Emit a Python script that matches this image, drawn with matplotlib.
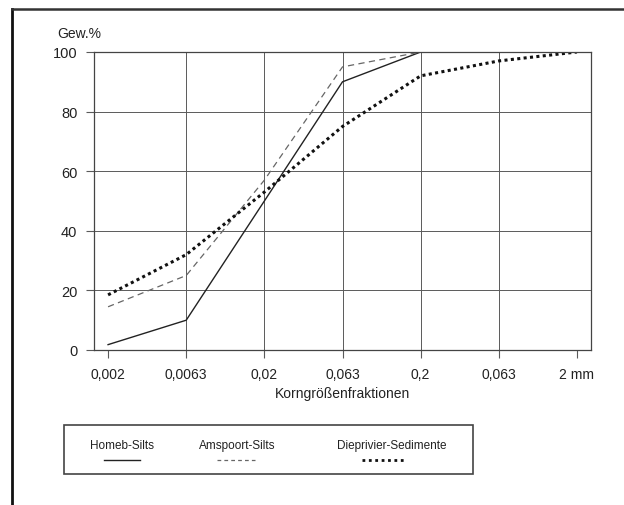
import matplotlib.pyplot as plt
from matplotlib.lines import Line2D
from matplotlib.patches import Rectangle

plt.rcParams['font.family'] = ['Liberation Sans', 'DejaVu Sans']

# Korngrößenfraktionen (Kategorien auf der x-Achse)
fractions = ['0,002', '0,0063', '0,02', '0,063', '0,2', '0,063', '2 mm']

# Summenkurven in Gew.%
homeb = [1.8, 10, 50, 90, 100]
amspoort = [14.5, 25, 57, 95, 100]
dieprivier = [18.5, 32, 53, 75, 92, 97, 100]

W, H = 624, 506
fig = plt.figure(figsize=(W / 100, H / 100), dpi=100)
ax = fig.add_axes([94 / W, 1 - 351 / H, (591 - 94) / W, (351 - 53) / H])

ink = '#222222'
grid = '#5a5a5a'

ax.plot(range(len(homeb)), homeb, color=ink, lw=1.0)
ax.plot(range(len(amspoort)), amspoort, color='#666666', lw=0.9, linestyle=(0, (5, 3.5)))
ax.plot(range(len(dieprivier)), dieprivier, color='#111111', lw=2.2, linestyle=(0, (1, 1.1)))

ax.set_xlim(-0.18, len(fractions) - 1 + 0.18)
ax.set_ylim(0, 100)
ax.set_xticks(range(len(fractions)))
ax.set_xticklabels(fractions)
ax.set_yticks([0, 20, 40, 60, 80, 100])

# Gitter: vertikal nur zwischen erster und letzter Fraktion
for i in range(1, len(fractions) - 1):
    ax.axvline(i, color=grid, lw=0.7, zorder=0)
for v in [20, 40, 60, 80]:
    ax.axhline(v, color=grid, lw=0.7, zorder=0)

for s in ax.spines.values():
    s.set_color('#444444')
    s.set_linewidth(0.9)

ax.tick_params(direction='out', length=6, width=0.8, color=grid,
               labelsize=10, labelcolor=ink, pad=6)
ax.tick_params(axis='y', labelsize=10.5)
ax.set_xlabel('Korngrößenfraktionen', fontsize=10, color=ink, labelpad=4)
fig.text(57 / W, 1 - 34 / H, 'Gew.%', fontsize=10, color=ink, va='center')

# Rahmen um die ganze Abbildung
fig.add_artist(Line2D([12 / W, 12 / W], [0, 1 - 10 / H], color='#111111', lw=2.0))
fig.add_artist(Line2D([12 / W, 1], [1 - 10 / H, 1 - 10 / H], color='#333333', lw=1.8))

# Legende
fig.add_artist(Rectangle((64 / W, 1 - 475 / H), (473 - 64) / W, (475 - 426) / H,
                         transform=fig.transFigure, fill=False, ec='#444444', lw=1.2))
legend = [
    ('Homeb-Silts', 122, 104, 140, dict(color=ink, lw=1.0)),
    ('Amspoort-Silts', 237, 217, 255, dict(color='#666666', lw=0.9, linestyle=(0, (3, 2.5)))),
    ('Dieprivier-Sedimente', 392, 362, 405, dict(color='#111111', lw=2.0, linestyle=(0, (1, 1.3)))),
]
for label, xc, x0, x1, style in legend:
    fig.text(xc / W, 1 - 446 / H, label, fontsize=8.5, color=ink, ha='center', va='center')
    fig.add_artist(Line2D([x0 / W, x1 / W], [1 - 461 / H, 1 - 461 / H], **style))

plt.savefig('out.png', dpi=100)
